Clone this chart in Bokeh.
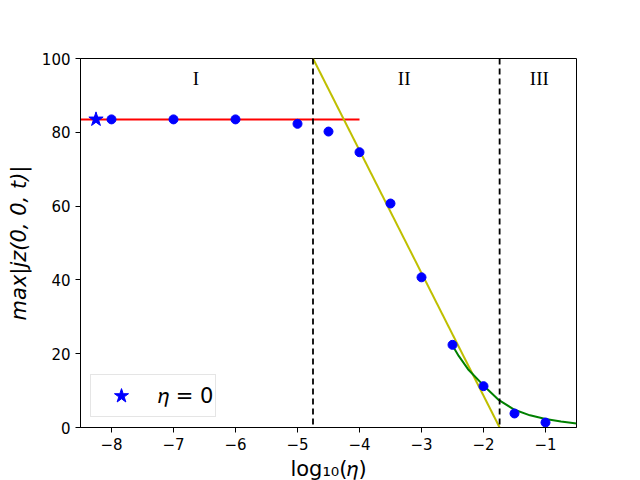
from bokeh.plotting import figure
from bokeh.models import Range1d, FixedTicker, Span, Legend, LegendItem, ColumnDataSource
from bokeh.core.properties import value
from bokeh.embed import file_html
from bokeh.resources import INLINE

# data
eta_log = [-8, -7, -6, -5, -4.5, -4, -3.5, -3, -2.5, -2, -1.5, -1]
jmax = [83.5, 83.5, 83.5, 82.3, 80.2, 74.6, 60.7, 40.7, 22.4, 11.2, 3.8, 1.35]
star_x = [-8.25]
star_y = [83.5]
flat_x = [-8.5, -4.0]
flat_y = [83.5, 83.5]
steep_x = [-4.75, -1.74]
steep_y = [100.0, 0.0]
tail_x = [-2.5, -2.4, -2.25, -2.0, -1.75, -1.5, -1.25, -1.0, -0.75, -0.5]
tail_y = [22.2, 19.4, 15.8, 11.4, 7.4, 4.8, 3.3, 2.3, 1.6, 1.1]
regime_x = [-4.75, -1.74]
region_labels = ["I", "II", "III"]
region_x = [-6.64, -3.28, -1.1]
region_y = [94.6, 94.6, 94.6]
x_ticks = [-8, -7, -6, -5, -4, -3, -2, -1]
x_tick_labels = ["\u22128", "\u22127", "\u22126", "\u22125", "\u22124", "\u22123", "\u22122", "\u22121"]
y_ticks = [0, 20, 40, 60, 80, 100]

p = figure(output_backend="svg", toolbar_location=None,
           frame_width=496, frame_height=369,
           min_border_left=80, min_border_right=52, min_border_top=58, min_border_bottom=45,
           x_range=Range1d(-8.5, -0.5), y_range=Range1d(0, 100))
p.background_fill_color = "white"
p.border_fill_color = "white"
p.outline_line_color = "black"
p.outline_line_width = 1
p.xgrid.visible = False
p.ygrid.visible = False

for ax in (p.xaxis[0], p.yaxis[0]):
    ax.major_tick_out = 5
    ax.major_tick_in = 0
    ax.minor_tick_out = 0
    ax.minor_tick_in = 0
    ax.axis_line_color = "black"
    ax.major_tick_line_color = "black"
    ax.major_label_text_font = "DejaVu Sans"
    ax.major_label_text_font_size = "15px"
    ax.major_label_text_color = "black"
    ax.axis_label_text_font = "DejaVu Sans"
    ax.axis_label_text_font_size = "21px"
    ax.axis_label_text_color = "black"

p.xaxis.ticker = FixedTicker(ticks=x_ticks)
p.xaxis.major_label_overrides = {t: s for t, s in zip(x_ticks, x_tick_labels)}
p.yaxis.ticker = FixedTicker(ticks=y_ticks)
p.xaxis.axis_label = "log\u2081\u2080(\U0001D702)"
p.xaxis.axis_label_text_font_style = "normal"
p.xaxis.axis_label_standoff = 4
p.yaxis.axis_label = "max|jz(0, 0, t)|"
p.yaxis.axis_label_text_font_style = "italic"
p.yaxis.axis_label_standoff = 8

for xv in regime_x:
    p.add_layout(Span(location=xv, dimension="height", line_color="black",
                      line_width=1.8, line_dash="6 4"))

p.line(flat_x, flat_y, line_color="#ff0000", line_width=2)
p.line(steep_x, steep_y, line_color="#bfbf00", line_width=2)
p.line(tail_x, tail_y, line_color="#008000", line_width=2)
p.scatter(eta_log, jmax, marker="circle", size=9, fill_color="#0000ff", line_color="#0000ff")
star = p.scatter(star_x, star_y, marker="star", size=15, fill_color="#0000ff", line_color="#0000ff")

src = ColumnDataSource(dict(x=region_x, y=region_y, t=region_labels))
p.text(x="x", y="y", text="t", source=src, text_font=value("Liberation Serif"),
       text_font_size="19px", text_align="center", text_baseline="middle", text_color="black")

legend = Legend(items=[LegendItem(label="\U0001D702 = 0", renderers=[star])],
                location=(10, 10))
legend.label_text_font = "DejaVu Sans"
legend.label_text_font_size = "21px"
legend.label_text_font_style = "normal"
legend.label_text_color = "black"
legend.glyph_width = 56
legend.glyph_height = 37
legend.label_standoff = 9
legend.padding = 2
legend.margin = 0
legend.border_line_color = "#cccccc"
legend.border_line_width = 1
legend.background_fill_alpha = 0.8
p.add_layout(legend)

open("out.html", "w").write(file_html(p, INLINE))
